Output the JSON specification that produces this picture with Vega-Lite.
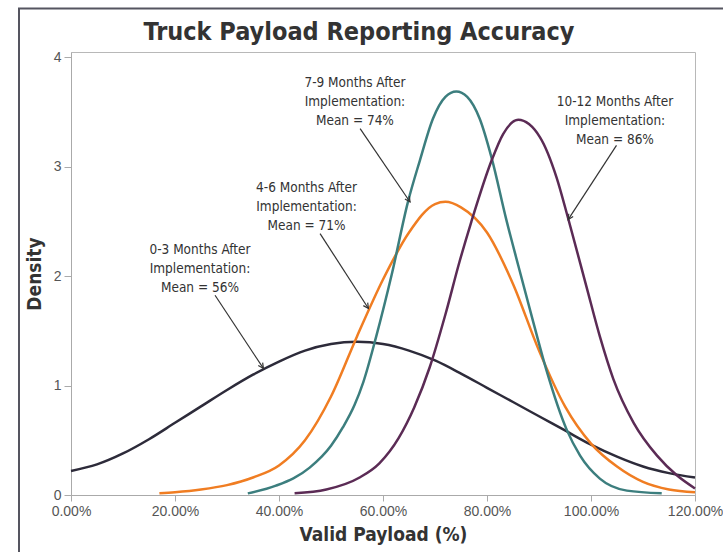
{
  "$schema": "https://vega.github.io/schema/vega-lite/v6.json",
  "width": 624,
  "height": 443,
  "autosize": {"type": "none"},
  "padding": {"left": 71, "top": 52, "right": 28, "bottom": 57},
  "background": "white",
  "config": {
    "view": {"stroke": "#b8b8b8", "strokeWidth": 1},
    "axis": {
      "grid": false,
      "domainColor": "#aaaaaa",
      "tickColor": "#aaaaaa",
      "labelColor": "#555555",
      "labelFont": "Liberation Sans",
      "labelFontSize": 14,
      "titleFont": "DejaVu Sans Condensed, Roboto, sans-serif",
      "titleColor": "#333333",
      "titleFontWeight": "bold"
    }
  },
  "title": {
    "text": "Truck Payload Reporting Accuracy",
    "font": "DejaVu Sans Condensed, Roboto, sans-serif",
    "fontSize": 25,
    "fontWeight": "bold",
    "color": "#333333",
    "anchor": "middle",
    "frame": "group",
    "offset": -37,
    "dx": -24
  },
  "datasets": {
    "curves": [
      {"s": "0-3", "x": 0, "y": 0.22}, {"s": "0-3", "x": 0.05, "y": 0.28}, {"s": "0-3", "x": 0.1, "y": 0.38},
      {"s": "0-3", "x": 0.15, "y": 0.51}, {"s": "0-3", "x": 0.2, "y": 0.66}, {"s": "0-3", "x": 0.25, "y": 0.81},
      {"s": "0-3", "x": 0.3, "y": 0.96}, {"s": "0-3", "x": 0.35, "y": 1.1}, {"s": "0-3", "x": 0.4, "y": 1.22},
      {"s": "0-3", "x": 0.45, "y": 1.32}, {"s": "0-3", "x": 0.5, "y": 1.38}, {"s": "0-3", "x": 0.55, "y": 1.4},
      {"s": "0-3", "x": 0.6, "y": 1.38}, {"s": "0-3", "x": 0.65, "y": 1.32}, {"s": "0-3", "x": 0.7, "y": 1.23},
      {"s": "0-3", "x": 0.75, "y": 1.11}, {"s": "0-3", "x": 0.8, "y": 0.98}, {"s": "0-3", "x": 0.85, "y": 0.85},
      {"s": "0-3", "x": 0.9, "y": 0.72}, {"s": "0-3", "x": 0.95, "y": 0.59}, {"s": "0-3", "x": 1.0, "y": 0.46},
      {"s": "0-3", "x": 1.05, "y": 0.35}, {"s": "0-3", "x": 1.1, "y": 0.26}, {"s": "0-3", "x": 1.15, "y": 0.2},
      {"s": "0-3", "x": 1.2, "y": 0.16},

      {"s": "4-6", "x": 0.17, "y": 0.015}, {"s": "4-6", "x": 0.2, "y": 0.025}, {"s": "4-6", "x": 0.25, "y": 0.05},
      {"s": "4-6", "x": 0.3, "y": 0.09}, {"s": "4-6", "x": 0.35, "y": 0.16}, {"s": "4-6", "x": 0.4, "y": 0.27},
      {"s": "4-6", "x": 0.45, "y": 0.5}, {"s": "4-6", "x": 0.5, "y": 0.9}, {"s": "4-6", "x": 0.55, "y": 1.45},
      {"s": "4-6", "x": 0.6, "y": 1.97}, {"s": "4-6", "x": 0.65, "y": 2.4}, {"s": "4-6", "x": 0.7, "y": 2.66},
      {"s": "4-6", "x": 0.72, "y": 2.68}, {"s": "4-6", "x": 0.75, "y": 2.63}, {"s": "4-6", "x": 0.8, "y": 2.4},
      {"s": "4-6", "x": 0.85, "y": 1.93}, {"s": "4-6", "x": 0.9, "y": 1.32}, {"s": "4-6", "x": 0.95, "y": 0.81},
      {"s": "4-6", "x": 1.0, "y": 0.47}, {"s": "4-6", "x": 1.05, "y": 0.26}, {"s": "4-6", "x": 1.1, "y": 0.12},
      {"s": "4-6", "x": 1.15, "y": 0.05}, {"s": "4-6", "x": 1.2, "y": 0.025},

      {"s": "7-9", "x": 0.34, "y": 0.015}, {"s": "7-9", "x": 0.394, "y": 0.085}, {"s": "7-9", "x": 0.459, "y": 0.25},
      {"s": "7-9", "x": 0.5, "y": 0.45}, {"s": "7-9", "x": 0.523, "y": 0.62}, {"s": "7-9", "x": 0.545, "y": 0.82},
      {"s": "7-9", "x": 0.562, "y": 1.03}, {"s": "7-9", "x": 0.587, "y": 1.45}, {"s": "7-9", "x": 0.617, "y": 2.02},
      {"s": "7-9", "x": 0.648, "y": 2.68}, {"s": "7-9", "x": 0.671, "y": 3.06}, {"s": "7-9", "x": 0.696, "y": 3.44},
      {"s": "7-9", "x": 0.72, "y": 3.64}, {"s": "7-9", "x": 0.741, "y": 3.69}, {"s": "7-9", "x": 0.762, "y": 3.64},
      {"s": "7-9", "x": 0.786, "y": 3.44}, {"s": "7-9", "x": 0.809, "y": 3.08}, {"s": "7-9", "x": 0.837, "y": 2.52},
      {"s": "7-9", "x": 0.86, "y": 2.1}, {"s": "7-9", "x": 0.889, "y": 1.58}, {"s": "7-9", "x": 0.915, "y": 1.13},
      {"s": "7-9", "x": 0.953, "y": 0.6}, {"s": "7-9", "x": 0.979, "y": 0.36}, {"s": "7-9", "x": 1.017, "y": 0.15},
      {"s": "7-9", "x": 1.069, "y": 0.04}, {"s": "7-9", "x": 1.136, "y": 0.015},

      {"s": "10-12", "x": 0.43, "y": 0.015}, {"s": "10-12", "x": 0.491, "y": 0.05}, {"s": "10-12", "x": 0.555, "y": 0.16},
      {"s": "10-12", "x": 0.593, "y": 0.29}, {"s": "10-12", "x": 0.63, "y": 0.52}, {"s": "10-12", "x": 0.66, "y": 0.8},
      {"s": "10-12", "x": 0.69, "y": 1.17}, {"s": "10-12", "x": 0.72, "y": 1.65}, {"s": "10-12", "x": 0.747, "y": 2.13},
      {"s": "10-12", "x": 0.77, "y": 2.5}, {"s": "10-12", "x": 0.809, "y": 3.06}, {"s": "10-12", "x": 0.831, "y": 3.3},
      {"s": "10-12", "x": 0.86, "y": 3.43}, {"s": "10-12", "x": 0.902, "y": 3.27}, {"s": "10-12", "x": 0.934, "y": 2.9},
      {"s": "10-12", "x": 0.956, "y": 2.53}, {"s": "10-12", "x": 0.991, "y": 1.91}, {"s": "10-12", "x": 1.017, "y": 1.45},
      {"s": "10-12", "x": 1.043, "y": 1.06}, {"s": "10-12", "x": 1.082, "y": 0.66}, {"s": "10-12", "x": 1.127, "y": 0.36},
      {"s": "10-12", "x": 1.165, "y": 0.18}, {"s": "10-12", "x": 1.2, "y": 0.06}
    ],
    "notes": [
      {"g": "0-3", "t": "0-3 Months After\nImplementation:\nMean = 56%", "x": 0.248, "y": 2.24},
      {"g": "4-6", "t": "4-6 Months After\nImplementation:\nMean = 71%", "x": 0.453, "y": 2.804},
      {"g": "7-9", "t": "7-9 Months After\nImplementation:\nMean = 74%", "x": 0.546, "y": 3.764},
      {"g": "10-12", "t": "10-12 Months After\nImplementation:\nMean = 86%", "x": 1.046, "y": 3.596}
    ],
    "arrows": [
      {"g": "0-3", "x": 0.277, "y": 1.826, "x2": 0.37, "y2": 1.157},
      {"g": "4-6", "x": 0.479, "y": 2.39, "x2": 0.572, "y2": 1.705},
      {"g": "7-9", "x": 0.556, "y": 3.349, "x2": 0.652, "y2": 2.679},
      {"g": "10-12", "x": 1.049, "y": 3.196, "x2": 0.956, "y2": 2.518}
    ]
  },
  "layer": [
    {
      "data": {"values": [{}]},
      "mark": {"type": "rect", "filled": false, "stroke": "#555560", "strokeWidth": 2},
      "encoding": {
        "x": {"datum": -0.1, "type": "quantitative", "title": "Valid Payload (%)"},
        "x2": {"datum": 1.3},
        "y": {"datum": 4.447, "type": "quantitative", "title": "Density"},
        "y2": {"datum": -0.6}
      }
    },
    {
      "data": {"name": "curves"},
      "mark": {"type": "line", "interpolate": "monotone", "strokeWidth": 2.5},
      "encoding": {
        "x": {
          "field": "x", "type": "quantitative", "title": "Valid Payload (%)",
          "scale": {"domain": [0, 1.2], "nice": false, "zero": false},
          "axis": {"values": [0, 0.2, 0.4, 0.6, 0.8, 1.0, 1.2], "format": ".2%", "tickSize": 6, "labelPadding": 3, "labelDx": 4, "titleFontSize": 19, "titlePadding": 7, "labelFlush": false, "labelOverlap": false}
        },
        "y": {
          "field": "y", "type": "quantitative", "title": "Density",
          "scale": {"domain": [0, 4.05], "nice": false},
          "axis": {"values": [0, 1, 2, 3, 4], "format": "d", "tickSize": 7, "labelPadding": 3, "titleFontSize": 19, "titlePadding": 9}
        },
        "color": {
          "field": "s", "type": "nominal", "legend": null,
          "scale": {"domain": ["0-3", "4-6", "7-9", "10-12"], "range": ["#2d2b3a", "#f07d22", "#3c7e7e", "#5b2b55"]}
        },
        "order": {"field": "x", "type": "quantitative"}
      }
    },
    {
      "data": {"name": "arrows"},
      "mark": {"type": "rule", "color": "#333333", "strokeWidth": 1.2},
      "encoding": {
        "x": {"field": "x", "type": "quantitative", "title": "Valid Payload (%)"},
        "y": {"field": "y", "type": "quantitative", "title": "Density"},
        "x2": {"field": "x2"},
        "y2": {"field": "y2"}
      }
    },
    {
      "data": {"name": "arrows"},
      "transform": [{"filter": "datum.g != '10-12'"}],
      "mark": {"type": "point", "shape": "M-0.5,1L0,0L0.5,1", "filled": false, "stroke": "#333333", "strokeWidth": 1.2, "size": 110, "angle": 146, "opacity": 1},
      "encoding": {
        "x": {"field": "x2", "type": "quantitative", "title": "Valid Payload (%)"},
        "y": {"field": "y2", "type": "quantitative", "title": "Density"}
      }
    },
    {
      "data": {"name": "arrows"},
      "transform": [{"filter": "datum.g == '10-12'"}],
      "mark": {"type": "point", "shape": "M-0.5,1L0,0L0.5,1", "filled": false, "stroke": "#333333", "strokeWidth": 1.2, "size": 110, "angle": 213, "opacity": 1},
      "encoding": {
        "x": {"field": "x2", "type": "quantitative", "title": "Valid Payload (%)"},
        "y": {"field": "y2", "type": "quantitative", "title": "Density"}
      }
    },
    {
      "data": {"name": "notes"},
      "mark": {"type": "text", "lineBreak": "\n", "lineHeight": 19, "font": "DejaVu Sans Condensed, Roboto, sans-serif", "fontSize": 13.5, "color": "#333333", "align": "center", "baseline": "middle"},
      "encoding": {
        "x": {"field": "x", "type": "quantitative", "title": "Valid Payload (%)"},
        "y": {"field": "y", "type": "quantitative", "title": "Density"},
        "text": {"field": "t"}
      }
    }
  ]
}
